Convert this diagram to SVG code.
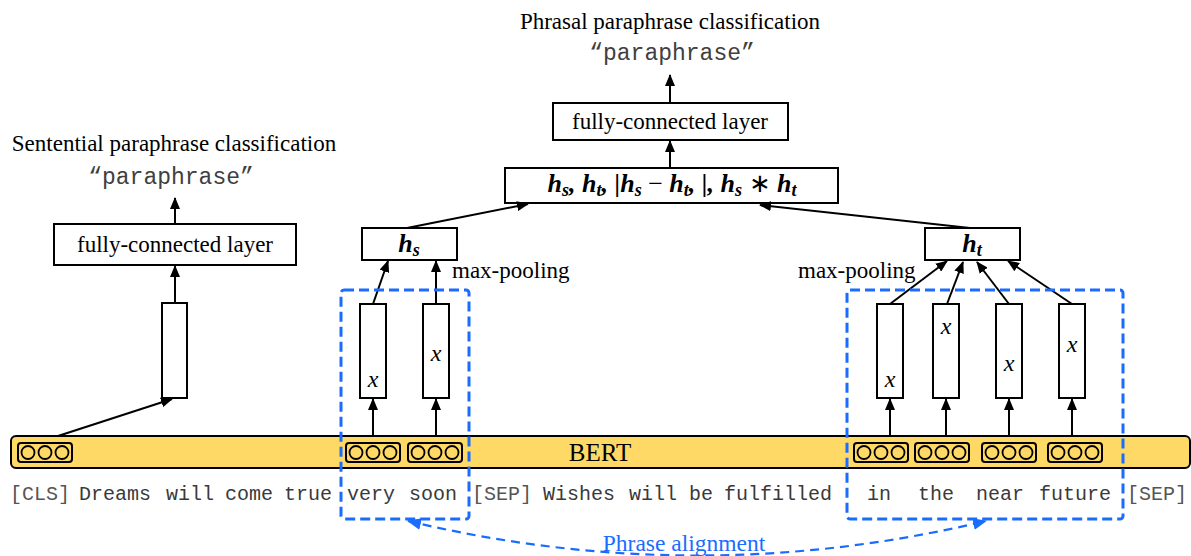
<svg xmlns="http://www.w3.org/2000/svg" width="1191" height="556" viewBox="0 0 1191 556">
<style>
.box{fill:#fff;stroke:#000;stroke-width:2}
.tok{fill:none;stroke:#000;stroke-width:2}
.circ{fill:none;stroke:#000;stroke-width:1.8}
.ser{font-family:"Liberation Serif","Times New Roman",serif;font-size:23px;fill:#000}
.mono{font-family:"Liberation Mono","Courier New",monospace;font-size:20px;fill:#3a3a3a}
.spec{fill:#555}
.quote{font-family:"Liberation Mono","Courier New",monospace;font-size:23px;fill:#404040}
.math{font-family:"Liberation Serif","Times New Roman",serif;font-size:26px;font-weight:bold;font-style:italic;fill:#000}
.sub{font-size:18px}
.op{font-weight:normal;font-style:normal}
.xv{font-family:"Liberation Serif","Times New Roman",serif;font-size:24px;font-style:italic;fill:#000}
.arr{stroke:#000;stroke-width:2;fill:none;marker-end:url(#ah)}
.blue{fill:none;stroke:#1a6cff;stroke-width:3;stroke-dasharray:10 5}
</style>
<defs>
<marker id="ah" viewBox="0 0 12 10" refX="11" refY="5" markerWidth="12" markerHeight="10" markerUnits="userSpaceOnUse" orient="auto"><path d="M0,0 L12,5 L0,10 z" fill="#000"/></marker>
<marker id="bh" viewBox="0 0 14 12" refX="13" refY="6" markerWidth="14" markerHeight="12" markerUnits="userSpaceOnUse" orient="auto-start-reverse"><path d="M0,0 L14,6 L0,12 z" fill="#1a6cff"/></marker>
</defs>
<rect width="1191" height="556" fill="#fff"/>

<g id="bert">
<rect x="11" y="436" width="1179" height="32" rx="5" fill="#ffd966" stroke="#000" stroke-width="2"/>
<text class="ser" x="600" y="461" text-anchor="middle" style="font-size:25px">BERT</text>
</g>

<g id="tokens">
<g id="tok-cls"><rect class="tok" x="18" y="443" width="54" height="19" rx="3"/><circle class="circ" cx="28" cy="452.5" r="6.5"/><circle class="circ" cx="45" cy="452.5" r="6.5"/><circle class="circ" cx="62" cy="452.5" r="6.5"/></g>
<g id="tok-very"><rect class="tok" x="346" y="443" width="54" height="19" rx="3"/><circle class="circ" cx="356" cy="452.5" r="6.5"/><circle class="circ" cx="373" cy="452.5" r="6.5"/><circle class="circ" cx="390" cy="452.5" r="6.5"/></g>
<g id="tok-soon"><rect class="tok" x="408" y="443" width="54" height="19" rx="3"/><circle class="circ" cx="418" cy="452.5" r="6.5"/><circle class="circ" cx="435" cy="452.5" r="6.5"/><circle class="circ" cx="452" cy="452.5" r="6.5"/></g>
<g id="tok-in"><rect class="tok" x="854" y="443" width="54" height="19" rx="3"/><circle class="circ" cx="864" cy="452.5" r="6.5"/><circle class="circ" cx="881" cy="452.5" r="6.5"/><circle class="circ" cx="898" cy="452.5" r="6.5"/></g>
<g id="tok-the"><rect class="tok" x="915" y="443" width="54" height="19" rx="3"/><circle class="circ" cx="925" cy="452.5" r="6.5"/><circle class="circ" cx="942" cy="452.5" r="6.5"/><circle class="circ" cx="959" cy="452.5" r="6.5"/></g>
<g id="tok-near"><rect class="tok" x="982" y="443" width="54" height="19" rx="3"/><circle class="circ" cx="992" cy="452.5" r="6.5"/><circle class="circ" cx="1009" cy="452.5" r="6.5"/><circle class="circ" cx="1026" cy="452.5" r="6.5"/></g>
<g id="tok-future"><rect class="tok" x="1048" y="443" width="54" height="19" rx="3"/><circle class="circ" cx="1058" cy="452.5" r="6.5"/><circle class="circ" cx="1075" cy="452.5" r="6.5"/><circle class="circ" cx="1092" cy="452.5" r="6.5"/></g>
</g>

<g id="words">
<text class="mono spec" x="10" y="500">[CLS]</text>
<text class="mono" x="79" y="500">Dreams</text>
<text class="mono" x="166" y="500">will</text>
<text class="mono" x="225" y="500">come</text>
<text class="mono" x="284" y="500">true</text>
<text class="mono" x="347" y="500">very</text>
<text class="mono" x="409" y="500">soon</text>
<text class="mono spec" x="472" y="500">[SEP]</text>
<text class="mono" x="543" y="500">Wishes</text>
<text class="mono" x="629" y="500">will</text>
<text class="mono" x="689" y="500">be</text>
<text class="mono" x="724" y="500">fulfilled</text>
<text class="mono" x="867" y="500">in</text>
<text class="mono" x="918" y="500">the</text>
<text class="mono" x="976" y="500">near</text>
<text class="mono" x="1039" y="500">future</text>
<text class="mono spec" x="1127" y="500">[SEP]</text>
</g>

<g id="sentential">
<text class="ser" x="174" y="151" text-anchor="middle">Sentential paraphrase classification</text>
<text class="quote" x="171" y="184" text-anchor="middle">“paraphrase”</text>
</g>
<g id="fc-left"><rect class="box" x="54" y="224" width="242" height="41"/><text class="ser" x="175" y="252" text-anchor="middle">fully-connected layer</text></g>
<g id="cls-vec"><rect class="box" x="162" y="303" width="25" height="95"/></g>

<g id="phrasal">
<text class="ser" x="670" y="29" text-anchor="middle">Phrasal paraphrase classification</text>
<text class="quote" x="672" y="60" text-anchor="middle">“paraphrase”</text>
</g>
<g id="fc-top"><rect class="box" x="553" y="103" width="235" height="37"/><text class="ser" x="670" y="129" text-anchor="middle">fully-connected layer</text></g>
<g id="concat"><rect class="box" x="505" y="168" width="333" height="35"/>
<text class="math" x="672" y="192" text-anchor="middle">h<tspan dy="4" class="sub">s</tspan><tspan dy="-4">, h</tspan><tspan dy="4" class="sub">t</tspan><tspan dy="-4">, |h</tspan><tspan dy="4" class="sub">s</tspan><tspan dy="-4" class="op"> − </tspan><tspan>h</tspan><tspan dy="4" class="sub">t</tspan><tspan dy="-4">, |, h</tspan><tspan dy="4" class="sub">s</tspan><tspan dy="-4" class="op"> ∗ </tspan><tspan>h</tspan><tspan dy="4" class="sub">t</tspan></text>
</g>

<g id="hs"><rect class="box" x="362" y="228" width="95" height="32"/><text class="math" x="409" y="252" text-anchor="middle">h<tspan dy="4" class="sub">s</tspan></text></g>
<g id="ht"><rect class="box" x="925" y="228" width="95" height="32"/><text class="math" x="972" y="252" text-anchor="middle">h<tspan dy="4" class="sub">t</tspan></text></g>
<text class="ser" x="452" y="278">max-pooling</text>
<text class="ser" x="798" y="278">max-pooling</text>

<g id="vec-very"><rect class="box" x="360" y="304" width="26" height="94"/><text class="xv" x="373" y="387" text-anchor="middle">x</text></g>
<g id="vec-soon"><rect class="box" x="423" y="304" width="26" height="94"/><text class="xv" x="436" y="361" text-anchor="middle">x</text></g>
<g id="vec-in"><rect class="box" x="877" y="304" width="26" height="94"/><text class="xv" x="890" y="387" text-anchor="middle">x</text></g>
<g id="vec-the"><rect class="box" x="933" y="304" width="26" height="94"/><text class="xv" x="946" y="334" text-anchor="middle">x</text></g>
<g id="vec-near"><rect class="box" x="996" y="304" width="26" height="94"/><text class="xv" x="1009" y="371" text-anchor="middle">x</text></g>
<g id="vec-future"><rect class="box" x="1059" y="304" width="26" height="94"/><text class="xv" x="1072" y="352" text-anchor="middle">x</text></g>

<g id="connectors">
<line class="arr" x1="58" y1="436" x2="172" y2="399"/>
<line class="arr" x1="175" y1="303" x2="175" y2="266"/>
<line class="arr" x1="175" y1="224" x2="175" y2="198"/>
<line class="arr" x1="373" y1="436" x2="373" y2="399"/>
<line class="arr" x1="436" y1="436" x2="436" y2="399"/>
<line class="arr" x1="890" y1="436" x2="890" y2="399"/>
<line class="arr" x1="946" y1="436" x2="946" y2="399"/>
<line class="arr" x1="1009" y1="436" x2="1009" y2="399"/>
<line class="arr" x1="1072" y1="436" x2="1072" y2="399"/>
<line class="arr" x1="373" y1="304" x2="388" y2="261"/>
<line class="arr" x1="436" y1="304" x2="436" y2="261"/>
<line class="arr" x1="890" y1="304" x2="947" y2="261"/>
<line class="arr" x1="947" y1="304" x2="963" y2="262"/>
<line class="arr" x1="1009" y1="304" x2="977" y2="262"/>
<line class="arr" x1="1072" y1="304" x2="1008" y2="261"/>
<line class="arr" x1="407" y1="228" x2="528" y2="204"/>
<line class="arr" x1="970" y1="228" x2="760" y2="205"/>
<line class="arr" x1="670" y1="168" x2="670" y2="141"/>
<line class="arr" x1="670" y1="103" x2="670" y2="75"/>
</g>

<g id="alignment">
<rect class="blue" x="341" y="290" width="128" height="229" rx="3"/>
<rect class="blue" x="847" y="290" width="276" height="229" rx="3"/>
<path d="M408,521 Q697,590 986,521" fill="none" stroke="#1a6cff" stroke-width="2.2" stroke-dasharray="9 6" marker-start="url(#bh)" marker-end="url(#bh)"/>
<text class="ser" x="684" y="551" text-anchor="middle" style="font-size:23.5px;fill:#1a6cff">Phrase alignment</text>
</g>
</svg>
